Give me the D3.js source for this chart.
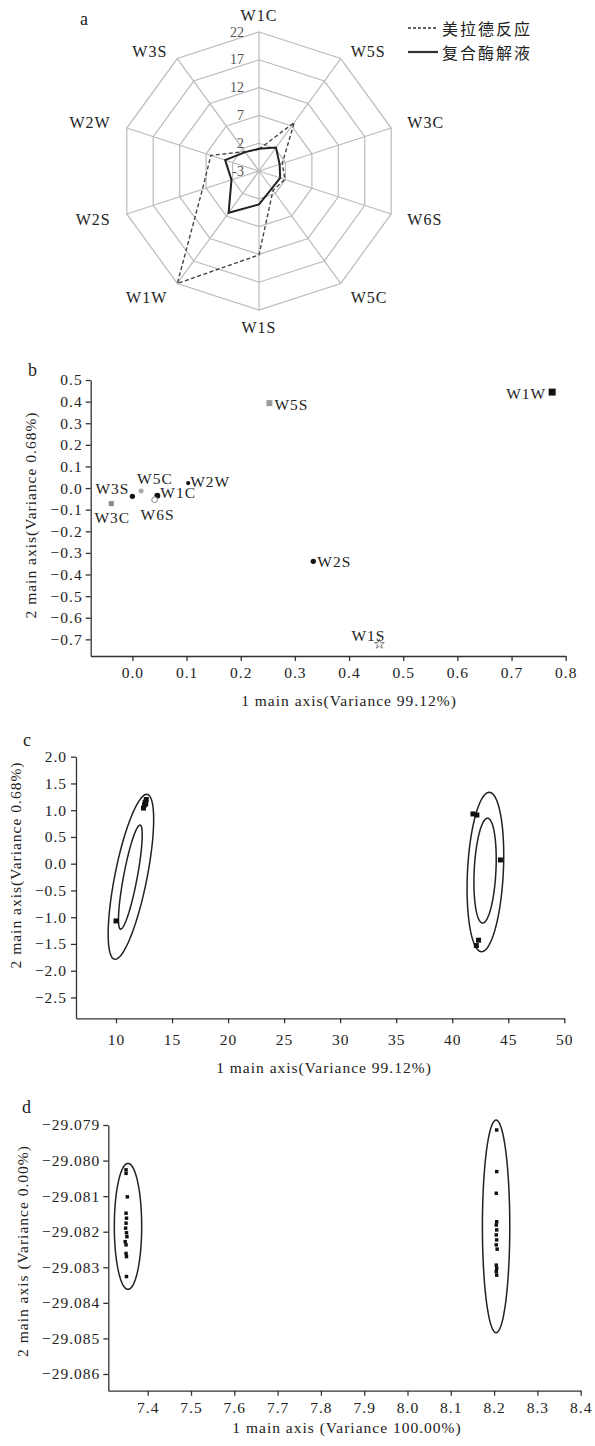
<!DOCTYPE html>
<html lang="zh">
<head>
<meta charset="UTF-8">
<title>Radar and PCA plots</title>
<script src="https://d3js.org/d3.v7.min.js"></script>
<style>
  body { margin: 0; background: #fff; }
  svg text { font-family: "Liberation Serif", "Times New Roman", serif; fill: #222; }
  .tick text { font-size: 15.5px; letter-spacing: 1px; fill: #222; }
  .axis path, .axis line { stroke: #333; stroke-width: 1.3; }
  .title { font-size: 15.5px; letter-spacing: 1px; }
  .panel { font-size: 18px; }
</style>
</head>
<body>
<svg id="chart" width="595" height="1446"></svg>
<script>
// ---------- data: a (radar) ----------
const radarAxes = ["W1C", "W5S", "W3C", "W6S", "W5C", "W1S", "W1W", "W2S", "W2W", "W3S"];
const radarTicks = [-3, 2, 7, 12, 17, 22];
const maillard = [0.9, 7.8, 1.4, 1.9, 1.3, 12.1, 22, 7.7, 6.1, 1.3];   // 美拉德反应
const enzymatic = [1.0, 2.2, 0.9, 1.0, 0.9, 3.0, 6.3, 2.2, 3.4, 1.2];  // 复合酶解液
const legendNames = ["美拉德反应", "复合酶解液"];

// ---------- data: b (PCA of sensors) ----------
const pcaNames = ["W1W", "W5S", "W2W", "W5C", "W3S", "W1C", "W6S", "W3C", "W2S", "W1S"];
const pcaX = [0.775, 0.253, 0.103, 0.016, 0.0, 0.046, 0.041, -0.039, 0.334, 0.456];
const pcaY = [0.444, 0.393, 0.023, -0.014, -0.038, -0.035, -0.054, -0.072, -0.339, -0.722];
const bTicksX = [0.0, 0.1, 0.2, 0.3, 0.4, 0.5, 0.6, 0.7, 0.8];
const bTicksY = [0.5, 0.4, 0.3, 0.2, 0.1, 0.0, -0.1, -0.2, -0.3, -0.4, -0.5, -0.6, -0.7];

// ---------- data: c (PCA of samples) ----------
const cPointX = [12.45, 12.55, 12.6, 12.7, 12.65, 10.0, 41.85, 42.2, 44.3, 42.35, 42.15];
const cPointY = [1.04, 1.10, 1.15, 1.20, 1.12, -1.07, 0.93, 0.91, 0.07, -1.43, -1.53];
const cEllCX = [11.33, 11.28, 42.96, 42.93];
const cEllCY = [-0.245, -0.25, -0.155, -0.13];
const cEllTopX = [12.74, 12.14, 43.30, 43.15];
const cEllTopY = [1.297, 0.723, 1.335, 0.85];
const cEllHalfW = [1.46, 0.62, 1.60, 0.97];
const cTicksX = [10, 15, 20, 25, 30, 35, 40, 45, 50];
const cTicksY = [2.0, 1.5, 1.0, 0.5, 0.0, -0.5, -1.0, -1.5, -2.0, -2.5];

// ---------- data: d (LDA) ----------
const dPointX = [7.350, 7.350, 7.353, 7.350, 7.351, 7.350, 7.349, 7.351, 7.352, 7.348, 7.350, 7.350, 7.351, 7.351,
                 8.206, 8.206, 8.205, 8.206, 8.205, 8.206, 8.205, 8.206, 8.205, 8.207, 8.205, 8.206, 8.205, 8.206];
const dPointY = [-29.08026, -29.08036, -29.08102, -29.08148, -29.08162, -29.08176, -29.08190, -29.08203, -29.08214,
                 -29.08228, -29.08237, -29.08261, -29.08270, -29.08326,
                 -29.07914, -29.08031, -29.08092, -29.08172, -29.08181, -29.08195, -29.08209, -29.08223, -29.08237,
                 -29.08249, -29.08294, -29.08303, -29.08312, -29.08322];
const dEllCX = [7.3545, 8.2046];
const dEllCY = [-29.08185, -29.08185];
const dEllTopX = [7.3545, 8.2046];
const dEllTopY = [-29.08008, -29.07886];
const dEllHalfW = [0.0316, 0.0316];
const dTicksX = [7.4, 7.5, 7.6, 7.7, 7.8, 7.9, 8.0, 8.1, 8.2, 8.3, 8.4];
const dTicksY = [-29.079, -29.080, -29.081, -29.082, -29.083, -29.084, -29.085, -29.086];

const svg = d3.select("#chart");

function panelLetter(t, x, y) {
    svg.append("text").attr("class", "panel").attr("x", x).attr("y", y)
        .attr("dominant-baseline", "central").text(t);
}

// ================= a: radar =================
(function () {
    const cx = 259, cy = 171;
    const r = d3.scaleLinear().domain([-3, 22]).range([0, 139]);
    const angle = i => i * 2 * Math.PI / radarAxes.length;
    const g = svg.append("g").attr("transform", `translate(${cx},${cy})`);

    const ring = d3.lineRadial()
        .angle((d, i) => angle(i))
        .radius(d => r(d))
        .curve(d3.curveLinearClosed);

    g.selectAll(".ring")
        .data(radarTicks.slice(1))
        .join("path")
        .attr("d", t => ring(radarAxes.map(() => t)))
        .attr("fill", "none")
        .attr("stroke", "#bbb")
        .attr("stroke-width", 1.2);

    g.selectAll(".spoke")
        .data(radarAxes)
        .join("line")
        .attr("x1", 0).attr("y1", 0)
        .attr("x2", (d, i) => d3.pointRadial(angle(i), r(22))[0])
        .attr("y2", (d, i) => d3.pointRadial(angle(i), r(22))[1])
        .attr("stroke", "#bbb")
        .attr("stroke-width", 1.2);

    // labels at the two upper diagonals sit a little lower in the original
    g.selectAll(".axlabel")
        .data(radarAxes)
        .join("text")
        .attr("x", (d, i) => d3.pointRadial(angle(i), 156)[0])
        .attr("y", (d, i) => {
            const c = Math.cos(angle(i));
            return d3.pointRadial(angle(i), 156)[1] + (c > 0.5 && c < 0.99 ? 7 : 0);
        })
        .attr("text-anchor", (d, i) => {
            const s = Math.sin(angle(i));
            return s > 0.1 ? "start" : (s < -0.1 ? "end" : "middle");
        })
        .attr("dominant-baseline", "central")
        .style("font-size", "16px")
        .style("letter-spacing", "1px")
        .text(d => d);

    g.selectAll(".rlabel")
        .data(radarTicks)
        .join("text")
        .attr("x", -15)
        .attr("y", d => -r(d))
        .attr("text-anchor", "end")
        .attr("dominant-baseline", "central")
        .style("font-size", "14px")
        .style("fill", "#555")
        .text(d => d);

    g.append("path")
        .attr("d", ring(maillard))
        .attr("fill", "none")
        .attr("stroke", "#444")
        .attr("stroke-width", 1.4)
        .attr("stroke-dasharray", "4,2.5");

    g.append("path")
        .attr("d", ring(enzymatic))
        .attr("fill", "none")
        .attr("stroke", "#222")
        .attr("stroke-width", 2);

    const lg = svg.append("g").attr("transform", "translate(408,28)");
    legendNames.forEach((name, i) => {
        lg.append("line")
            .attr("x1", 0).attr("x2", 30)
            .attr("y1", i * 24).attr("y2", i * 24)
            .attr("stroke", "#333")
            .attr("stroke-width", i === 0 ? 1.4 : 2.2)
            .attr("stroke-dasharray", i === 0 ? "3,2" : null);
        lg.append("text")
            .attr("x", 34).attr("y", i * 24)
            .attr("dominant-baseline", "central")
            .style("font-family", "'Noto Sans CJK SC', sans-serif")
            .style("font-size", "16px")
            .style("letter-spacing", "2px")
            .text(name);
    });

    panelLetter("a", 80, 19);
})();

// helpers for the scatter panels
function drawAxes(x, y, xTicks, yTicks, xFmt, yFmt, xPad, yPad) {
    svg.append("g").attr("class", "axis")
        .attr("transform", `translate(0,${y.range()[0]})`)
        .call(d3.axisBottom(x).tickValues(xTicks).tickFormat(xFmt)
            .tickSize(5).tickSizeOuter(0).tickPadding(xPad));
    svg.append("g").attr("class", "axis")
        .attr("transform", `translate(${x.range()[0]},0)`)
        .call(d3.axisLeft(y).tickValues(yTicks).tickFormat(yFmt)
            .tickSize(5).tickSizeOuter(0).tickPadding(yPad));
}

function axisTitles(xText, xx, xy, yText, yx, yy) {
    svg.append("text").attr("class", "title")
        .attr("x", xx).attr("y", xy)
        .attr("text-anchor", "middle").attr("dominant-baseline", "central")
        .text(xText);
    svg.append("text").attr("class", "title")
        .attr("transform", `translate(${yx},${yy}) rotate(-90)`)
        .attr("text-anchor", "middle").attr("dominant-baseline", "central")
        .text(yText);
}

function ellipsePath(x, y, cx, cy, tx, ty, hw) {
    const pts = d3.range(0, 96).map(k => {
        const t = k / 96 * 2 * Math.PI;
        return [x(cx + (tx - cx) * Math.cos(t) + hw * Math.sin(t)),
                y(cy + (ty - cy) * Math.cos(t))];
    });
    return d3.line().curve(d3.curveLinearClosed)(pts);
}

// ================= b =================
(function () {
    const x = d3.scaleLinear().domain([-0.077, 0.8]).range([90.7, 565.7]);
    const y = d3.scaleLinear().domain([-0.777, 0.5]).range([656, 380]);
    drawAxes(x, y, bTicksX, bTicksY, d3.format(".1f"), d3.format(".1f"), 6, 3);

    const markStyle = {
        W1W: { sym: d3.symbolSquare, size: 49, fill: "#111", stroke: "none" },
        W5S: { sym: d3.symbolSquare, size: 36, fill: "#999", stroke: "none" },
        W2W: { sym: d3.symbolCircle, size: 14, fill: "#111", stroke: "none" },
        W5C: { sym: d3.symbolCircle, size: 20, fill: "#aaa", stroke: "none" },
        W3S: { sym: d3.symbolCircle, size: 22, fill: "#111", stroke: "none" },
        W1C: { sym: d3.symbolCircle, size: 28, fill: "#111", stroke: "none" },
        W6S: { sym: d3.symbolCircle, size: 26, fill: "#fff", stroke: "#888" },
        W3C: { sym: d3.symbolSquare, size: 25, fill: "#888", stroke: "none" },
        W2S: { sym: d3.symbolCircle, size: 22, fill: "#111", stroke: "none" },
        W1S: { sym: d3.symbolStar, size: 30, fill: "#fff", stroke: "#888" }
    };
    const labelPos = {
        W1W: [-6, 1, "end"], W5S: [5, 1, "start"], W2W: [2, -2, "start"],
        W5C: [-4, -13, "start"], W3S: [-3, -8, "end"], W1C: [3, -3, "start"],
        W6S: [3, 15, "middle"], W3C: [1, 14, "middle"], W2S: [4, 0, "start"],
        W1S: [6, -9, "end"]
    };

    const pts = pcaNames.map((n, i) => ({ name: n, x: pcaX[i], y: pcaY[i] }));

    svg.append("g").selectAll("path")
        .data(pts)
        .join("path")
        .attr("transform", d => `translate(${x(d.x)},${y(d.y)})`)
        .attr("d", d => d3.symbol().type(markStyle[d.name].sym).size(markStyle[d.name].size)())
        .attr("fill", d => markStyle[d.name].fill)
        .attr("stroke", d => markStyle[d.name].stroke)
        .attr("stroke-width", 1);

    svg.append("g").selectAll("text")
        .data(pts)
        .join("text")
        .attr("x", d => x(d.x) + labelPos[d.name][0])
        .attr("y", d => y(d.y) + labelPos[d.name][1])
        .attr("text-anchor", d => labelPos[d.name][2])
        .attr("dominant-baseline", "central")
        .style("font-size", "15.5px")
        .style("letter-spacing", "1px")
        .text(d => d.name);

    axisTitles("1 main axis(Variance 99.12%)", 349, 700,
               "2 main axis(Variance 0.68%)", 30, 515);
    panelLetter("b", 28, 370);
})();

// ================= c =================
(function () {
    const x = d3.scaleLinear().domain([6.43, 50]).range([76, 564.3]);
    const y = d3.scaleLinear().domain([-2.89, 2.0]).range([1018.3, 756.7]);
    drawAxes(x, y, cTicksX, cTicksY, d3.format("d"), d3.format(".1f"), 11, 4);

    svg.append("g").selectAll("path")
        .data(cEllCX)
        .join("path")
        .attr("d", (d, i) => ellipsePath(x, y, cEllCX[i], cEllCY[i], cEllTopX[i], cEllTopY[i], cEllHalfW[i]))
        .attr("fill", "none")
        .attr("stroke", "#222")
        .attr("stroke-width", 1.5);

    svg.append("g").selectAll("path.pt")
        .data(cPointX)
        .join("path")
        .attr("transform", (d, i) => `translate(${x(cPointX[i])},${y(cPointY[i])})`)
        .attr("d", d3.symbol().type(d3.symbolSquare).size(25)())
        .attr("fill", "#111");

    axisTitles("1 main axis(Variance 99.12%)", 324, 1067,
               "2 main axis(Variance 0.68%)", 15, 865);
    panelLetter("c", 23, 740);
})();

// ================= d =================
(function () {
    const x = d3.scaleLinear().domain([7.309, 8.4]).range([108.3, 580.7]);
    const y = d3.scaleLinear().domain([-29.08647, -29.079]).range([1390.7, 1125]);
    drawAxes(x, y, dTicksX, dTicksY, d3.format(".1f"), d3.format(".3f"), 6, 3);

    svg.append("g").selectAll("path")
        .data(dEllCX)
        .join("path")
        .attr("d", (d, i) => ellipsePath(x, y, dEllCX[i], dEllCY[i], dEllTopX[i], dEllTopY[i], dEllHalfW[i]))
        .attr("fill", "none")
        .attr("stroke", "#222")
        .attr("stroke-width", 1.5);

    svg.append("g").selectAll("path.pt")
        .data(dPointX)
        .join("path")
        .attr("transform", (d, i) => `translate(${x(dPointX[i])},${y(dPointY[i])})`)
        .attr("d", d3.symbol().type(d3.symbolSquare).size(12)())
        .attr("fill", "#111");

    axisTitles("1 main axis (Variance 100.00%)", 347, 1427,
               "2 main axis (Variance 0.00%)", 22, 1251);
    panelLetter("d", 22, 1107);
})();
</script>
</body>
</html>
